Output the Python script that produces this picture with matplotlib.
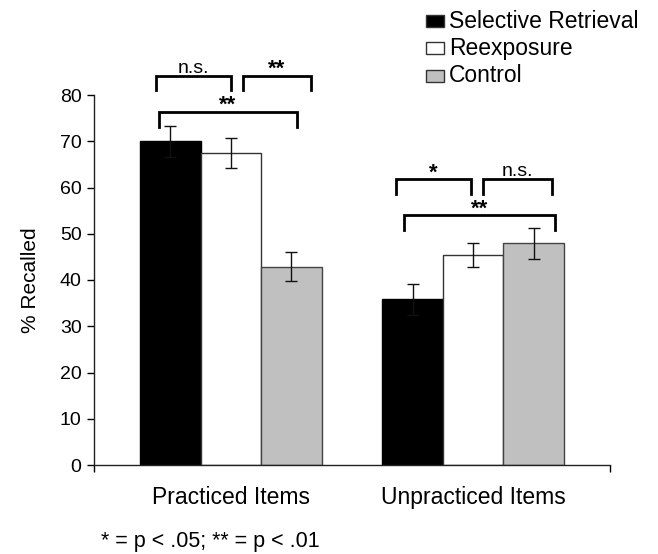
import matplotlib
matplotlib.use("Agg")
import matplotlib.pyplot as plt
from matplotlib.patches import Rectangle
import numpy as np

plt.rcParams['font.family'] = ['Liberation Sans', 'DejaVu Sans']

categories = ["Practiced Items", "Unpracticed Items"]
series = ["Selective Retrieval", "Reexposure", "Control"]
values = {
    "Selective Retrieval": [70.0, 35.8],
    "Reexposure": [67.4, 45.5],
    "Control": [42.9, 47.9],
}
errors = {
    "Selective Retrieval": [3.3, 3.4],
    "Reexposure": [3.2, 2.6],
    "Control": [3.1, 3.3],
}
colors = {"Selective Retrieval": "#000000", "Reexposure": "#ffffff", "Control": "#c0c0c0"}
edges = {"Selective Retrieval": "#000000", "Reexposure": "#333333", "Control": "#444444"}
yticks = [0, 10, 20, 30, 40, 50, 60, 70, 80]

# significance brackets: (x_left, x_right, y_top, label)
brackets = [
    (-0.311, 0.000, 84.2, "n.s."),
    (0.048, 0.329, 84.2, "**"),
    (-0.298, 0.271, 76.3, "**"),
    (0.681, 0.992, 61.8, "*"),
    (1.043, 1.325, 61.8, "n.s."),
    (0.715, 1.339, 54.0, "**"),
]
footnote = "* = p < .05; ** = p < .01"

W, H = 658, 554
fig = plt.figure(figsize=(W / 100, H / 100), dpi=100)
ax = fig.add_axes([94 / W, 1 - 465 / H, (610 - 94) / W, (465 - 95) / H])

x = np.arange(len(categories))
bw = 0.25
for i, s in enumerate(series):
    ax.bar(x + (i - 1) * bw, values[s], width=bw, color=colors[s],
           edgecolor=edges[s], linewidth=1.0, zorder=2)
    ax.errorbar(x + (i - 1) * bw, values[s], yerr=errors[s], fmt='none',
                ecolor='#111111', elinewidth=1.0, capsize=4.5, capthick=1.0, zorder=3)

ax.set_xlim(-0.566, 1.566)
ax.set_ylim(0, 80)
ax.set_yticks(yticks)
ax.set_yticklabels([str(t) for t in yticks], fontsize=14)
ax.set_xticks([-0.566, 1.566])
ax.set_xticklabels(["", ""])
ax.tick_params(axis='x', length=5, width=1, direction='out')
ax.tick_params(axis='y', length=5, width=1, direction='out', pad=4)
for sp in ['top', 'right']:
    ax.spines[sp].set_visible(False)
for sp in ['left', 'bottom']:
    ax.spines[sp].set_linewidth(1.0)
    ax.spines[sp].set_color('#222222')

for i, c in enumerate(categories):
    ax.text(x[i], -7.0, c, ha='center', va='center', fontsize=16.5)

ax.set_ylabel("% Recalled", fontsize=15, labelpad=14)

leg_drop = 3.2
for (xl, xr, yt, lab) in brackets:
    ax.plot([xl, xl, xr, xr], [yt - leg_drop, yt, yt, yt - leg_drop],
            color='black', linewidth=2.0, clip_on=False, zorder=4,
            solid_joinstyle='miter')
    if lab == "n.s.":
        ax.text((xl + xr) / 2, yt + 0.6, lab, ha='center', va='baseline',
                fontsize=14, clip_on=False)
    else:
        ax.text((xl + xr) / 2, yt + 0.2, lab, ha='center', va='baseline',
                fontsize=16, fontweight='bold', clip_on=False)

# legend (manual)
row_y = [21, 48, 76]
for s, yy in zip(series, row_y):
    fig.patches.append(Rectangle((426 / W, 1 - (yy + 6) / H), 18 / W, 12 / H,
                                 transform=fig.transFigure, facecolor=colors[s],
                                 edgecolor='#333333', linewidth=1.0))
    fig.text(449 / W, 1 - yy / H, s, ha='left', va='center', fontsize=16.5)

fig.text(101 / W, 1 - 542 / H, footnote, ha='left', va='center', fontsize=15.5)

fig.savefig("out.png", dpi=100)
